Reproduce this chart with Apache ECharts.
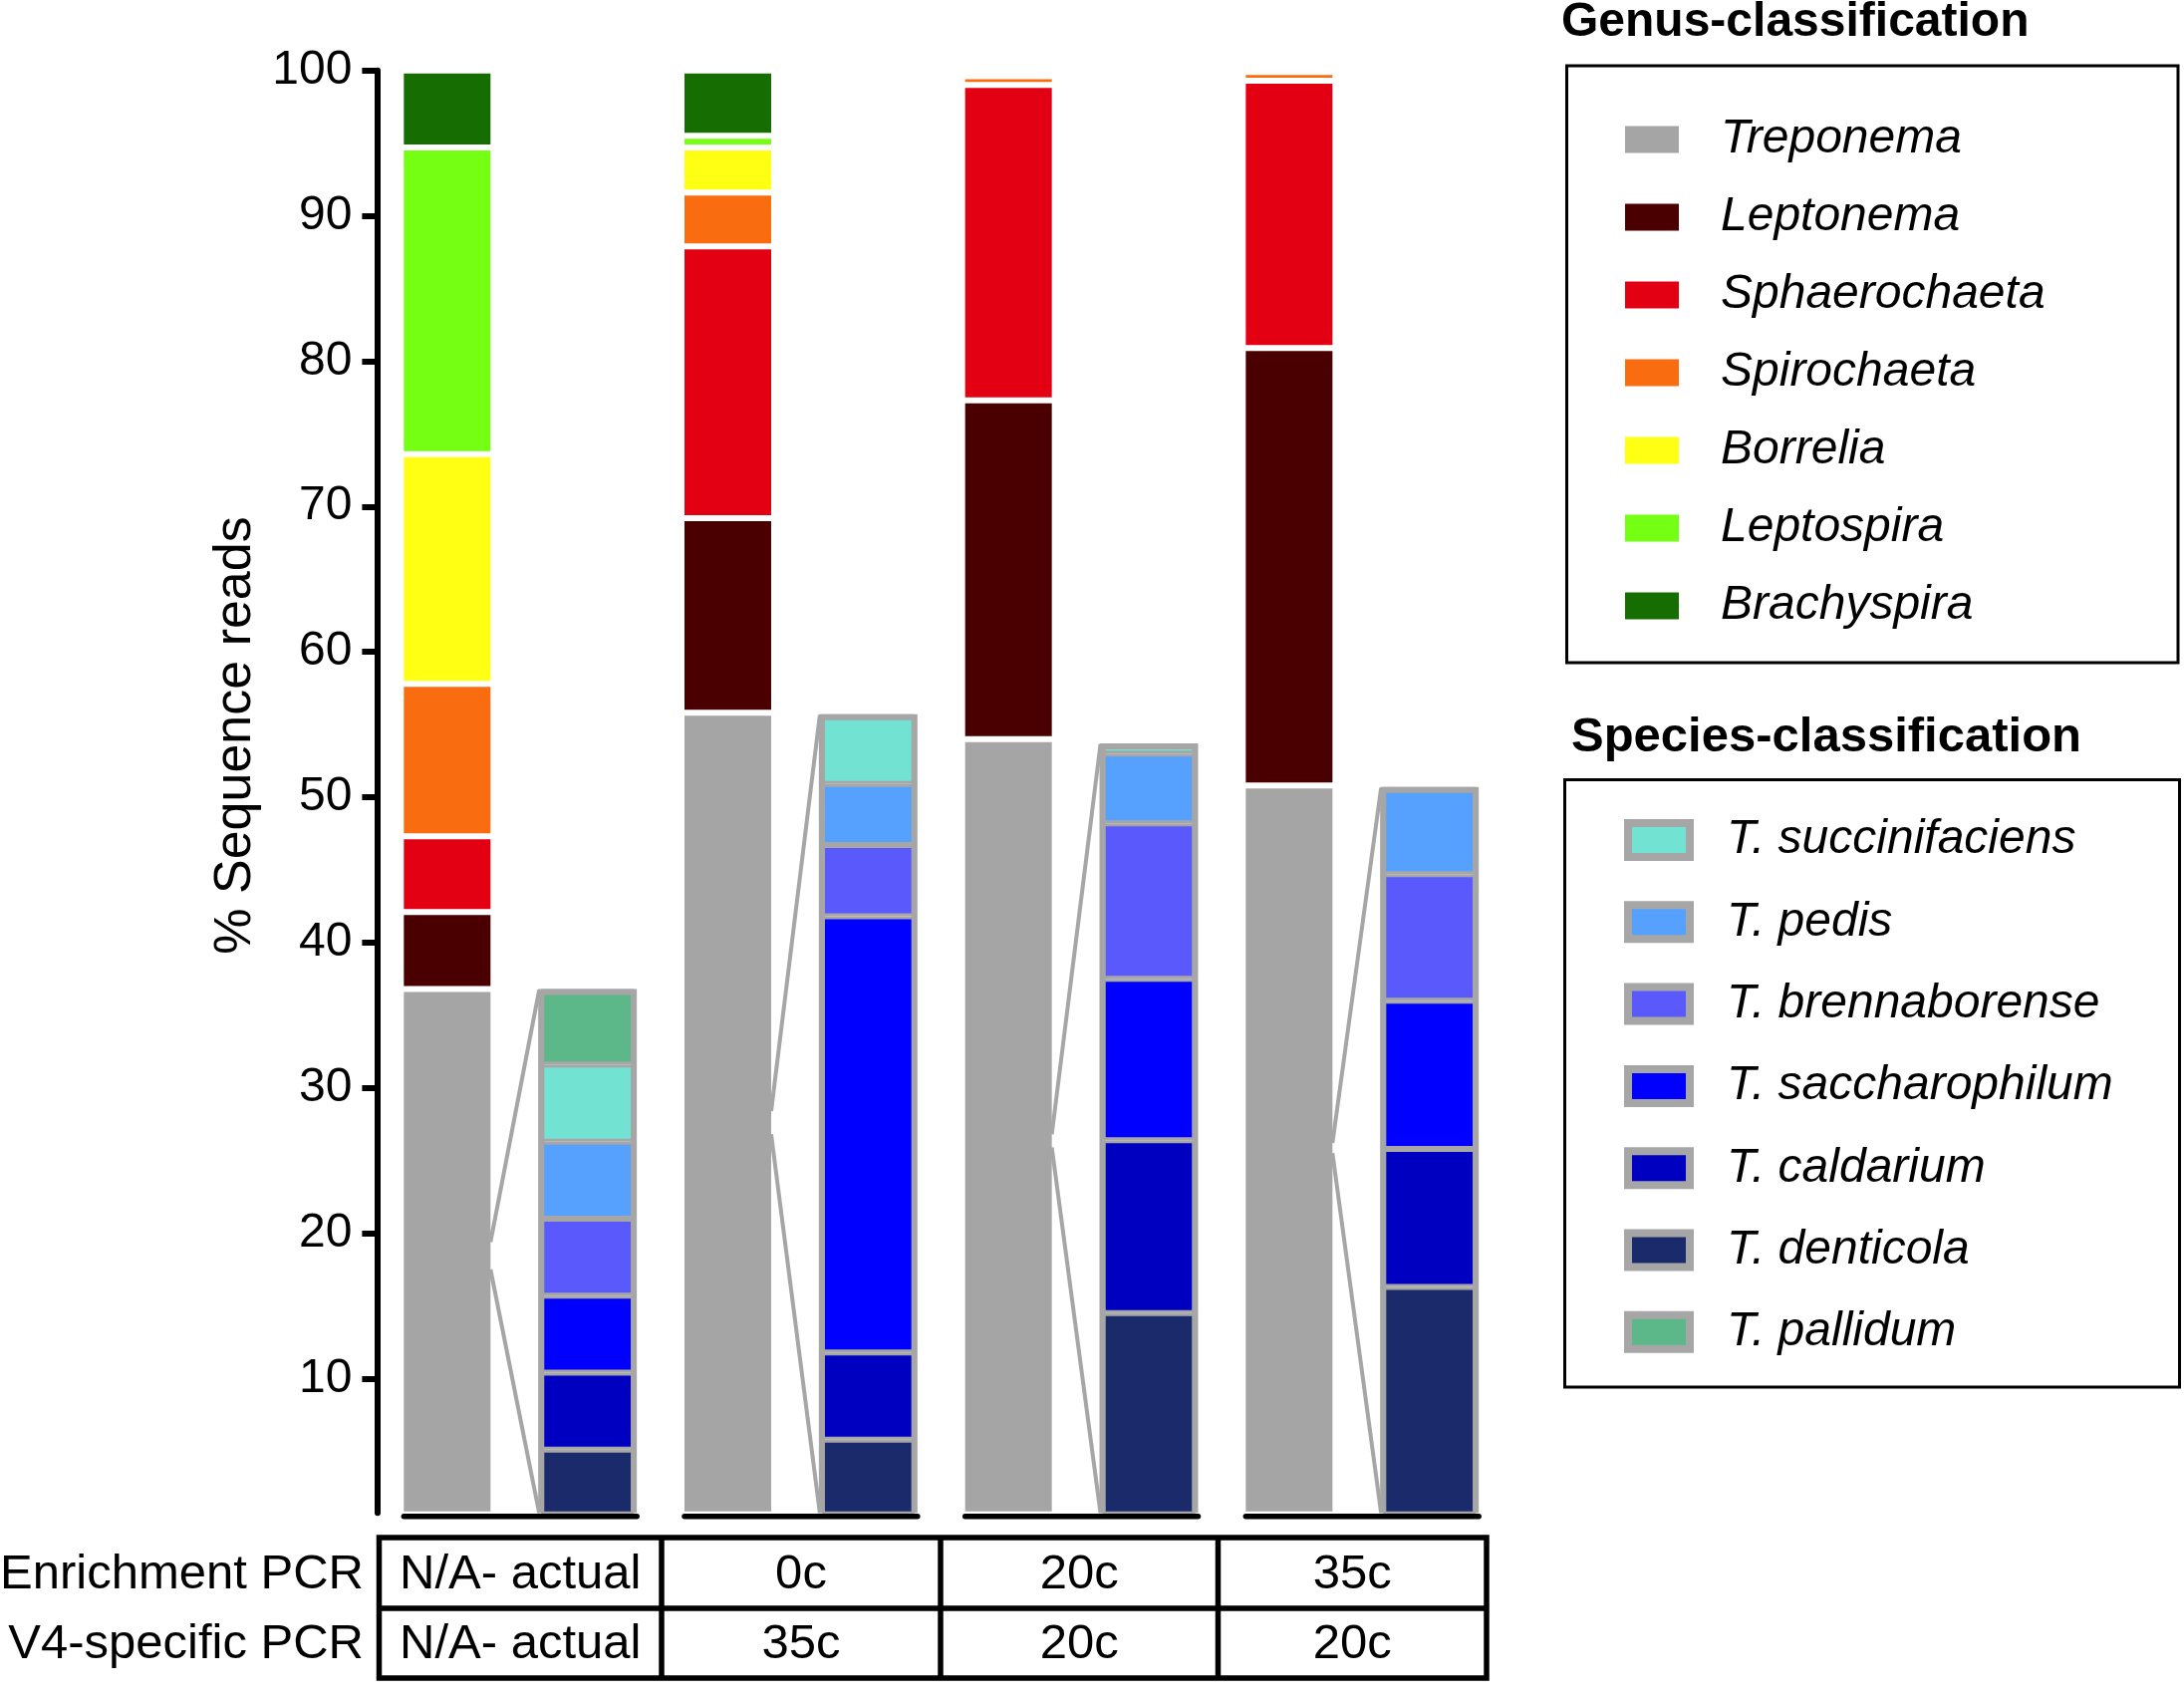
<!DOCTYPE html>
<html>
<head>
<meta charset="utf-8">
<script src="https://cdn.jsdelivr.net/npm/echarts@6/dist/echarts.min.js"></script>
<style>
html,body{margin:0;padding:0;background:#ffffff;}
#chart{width:2192px;height:1704px;}
</style>
</head>
<body>
<div id="chart"></div>
<script>
// ---------------- DATA ----------------
const enrichmentPcr = ['N/A- actual', '0c', '20c', '35c'];
const v4Pcr = ['N/A- actual', '35c', '20c', '20c'];
const tableRowLabels = ['Enrichment PCR', 'V4-specific PCR'];
const yTickValues = [10, 20, 30, 40, 50, 60, 70, 80, 90, 100];

// genus-level bars (stack order bottom -> top), one value per condition
const genusNames = ['Treponema', 'Leptonema', 'Sphaerochaeta', 'Spirochaeta', 'Borrelia', 'Leptospira', 'Brachyspira'];
const treponema     = [36.8, 55.8, 54.0, 50.8];
const leptonema     = [5.3, 13.4, 23.3, 30.1];
const sphaerochaeta = [5.2, 18.7, 21.7, 18.4];
const spirochaeta   = [10.5, 3.7, 0.6, 0.6];
const borrelia      = [15.8, 3.1, 0, 0];
const leptospira    = [21.1, 0.8, 0, 0];
const brachyspira   = [5.3, 4.5, 0, 0];

// species-level bars within Treponema (stack order bottom -> top)
const speciesNames = ['T. denticola', 'T. caldarium', 'T. saccharophilum', 'T. brennaborense', 'T. pedis', 'T. succinifaciens', 'T. pallidum'];
const tDenticola      = [5.1, 5.8, 14.5, 16.3];
const tCaldarium      = [5.3, 6.0, 11.9, 9.5];
const tSaccharophilum = [5.3, 30.0, 11.1, 10.2];
const tBrennaborense  = [5.3, 4.9, 10.7, 8.7];
const tPedis          = [5.3, 4.2, 4.8, 6.0];
const tSuccinifaciens = [5.3, 4.8, 0.7, 0];
const tPallidum       = [5.2, 0, 0, 0];
const speciesLegendOrder = ['T. succinifaciens', 'T. pedis', 'T. brennaborense', 'T. saccharophilum', 'T. caldarium', 'T. denticola', 'T. pallidum'];

// zoom connector end points on the genus bar
const zoomUpper = [19.4, 28.4, 26.8, 26.2];
const zoomLower = [17.5, 26.8, 25.9, 25.5];

// ---------------- STYLE ----------------
const FONT = "'Liberation Sans', Arial, Helvetica, sans-serif";
const Y_MIN = 0.75;
const GENUS_W = 93;      // bar width incl. inner white border
const SPEC_W = 99;       // outer width of species bar
const SEG_BORDER = 3;    // ECharts draws bar borders inside the rect
const OUTLINE_W = 6;
const GREY_BORDER = '#a6a6a6';
const genusColors = ['#a5a5a5', '#4a0000', '#e30012', '#fa6c10', '#ffff14', '#75ff12', '#166e03'];
const speciesColors = ['#1b2a6b', '#0000c0', '#0000ff', '#5a5afc', '#55a1fd', '#72e3d2', '#5cb888'];

// ---------------- BUILD ----------------
const genusValues = [treponema, leptonema, sphaerochaeta, spirochaeta, borrelia, leptospira, brachyspira];
const speciesValues = [tDenticola, tCaldarium, tSaccharophilum, tBrennaborense, tPedis, tSuccinifaciens, tPallidum];

const slots = [];
enrichmentPcr.forEach((c, i) => { slots.push('genus ' + i); slots.push('species ' + i); });

function slotData(vals, offset) {
  const out = [];
  vals.forEach(v => {
    const val = v === 0 ? '-' : v;
    if (offset === 0) { out.push(val); out.push('-'); }
    else { out.push('-'); out.push(val); }
  });
  return out;
}

const series = [];
genusNames.forEach((name, k) => {
  series.push({
    name: name, type: 'bar', stack: 'genus', barWidth: GENUS_W, barGap: '-100%',
    data: slotData(genusValues[k], 0),
    itemStyle: { color: genusColors[k], borderColor: '#ffffff', borderWidth: SEG_BORDER },
    emphasis: { disabled: true }
  });
});
speciesNames.forEach((name, k) => {
  series.push({
    name: name, type: 'bar', stack: 'genus', barWidth: GENUS_W,
    data: slotData(speciesValues[k], 1),
    itemStyle: { color: speciesColors[k], borderColor: GREY_BORDER, borderWidth: SEG_BORDER },
    emphasis: { disabled: true }
  });
});

const speciesTotals = enrichmentPcr.map((c, i) => speciesValues.reduce((s, arr) => s + arr[i], 0));
const connectorData = enrichmentPcr.map((c, i) => [2 * i, 2 * i + 1, speciesTotals[i], zoomUpper[i], zoomLower[i]]);

series.push({
  type: 'custom', name: 'connectors', z: 5, clip: false,
  encode: { x: 0, y: 2 },
  data: connectorData,
  renderItem: function (params, api) {
    const gi = api.value(0), si = api.value(1);
    const total = api.value(2), up = api.value(3), lo = api.value(4);
    const gx = api.coord([gi, Y_MIN])[0];
    const sx = api.coord([si, Y_MIN])[0];
    const yBottom = api.coord([si, Y_MIN])[1];
    const yTop = api.coord([si, total])[1];
    const genusRight = gx + GENUS_W / 2 - SEG_BORDER;
    const genusLeft = gx - GENUS_W / 2 + SEG_BORDER;
    const specLeft = sx - SPEC_W / 2;
    const specRight = sx + SPEC_W / 2;
    const lineStyle = { stroke: GREY_BORDER, lineWidth: 4 };
    const half = OUTLINE_W / 2;
    return {
      type: 'group',
      children: [
        // grey outline round the species stack (open at the bottom)
        { type: 'polyline', shape: { points: [[specLeft + half, yBottom], [specLeft + half, yTop + half], [specRight - half, yTop + half], [specRight - half, yBottom]] },
          style: { stroke: GREY_BORDER, lineWidth: OUTLINE_W, fill: 'none', lineJoin: 'miter' } },
        { type: 'line', shape: { x1: specLeft + 1, y1: yTop + 1, x2: genusRight, y2: api.coord([gi, up])[1] }, style: lineStyle },
        { type: 'line', shape: { x1: genusRight, y1: api.coord([gi, lo])[1], x2: specLeft + 1, y2: yBottom }, style: lineStyle },
        { type: 'line', shape: { x1: genusLeft, y1: yBottom + 3.5, x2: specRight, y2: yBottom + 3.5 }, style: { stroke: '#000', lineWidth: 5.5, lineCap: 'round' } }
      ]
    };
  }
});

// table graphics
const tableCols = [380.5, 664, 944, 1222.5, 1492];
const tableTop = 1543, tableMid = 1614, tableBottom = 1684;
const rowCenters = [1580, 1650];
const graphics = [];
graphics.push({ type: 'rect', shape: { x: tableCols[0], y: tableTop, width: tableCols[4] - tableCols[0], height: tableBottom - tableTop }, style: { fill: 'none', stroke: '#000', lineWidth: 5.5 } });
graphics.push({ type: 'line', shape: { x1: tableCols[0], y1: tableMid, x2: tableCols[4], y2: tableMid }, style: { stroke: '#000', lineWidth: 5.5 } });
for (let c = 1; c < 4; c++) {
  graphics.push({ type: 'line', shape: { x1: tableCols[c], y1: tableTop, x2: tableCols[c], y2: tableBottom }, style: { stroke: '#000', lineWidth: 5.5 } });
}
[enrichmentPcr, v4Pcr].forEach((row, r) => {
  row.forEach((txt, c) => {
    graphics.push({ type: 'text', x: (tableCols[c] + tableCols[c + 1]) / 2, y: rowCenters[r],
      style: { text: txt, fontSize: 49, fontFamily: FONT, fill: '#000', align: 'center', verticalAlign: 'middle' } });
  });
  graphics.push({ type: 'text', x: 365, y: rowCenters[r],
    style: { text: tableRowLabels[r], fontSize: 49, fontFamily: FONT, fill: '#000', align: 'right', verticalAlign: 'middle' } });
});
// legend boxes and headings
graphics.push({ type: 'rect', shape: { x: 1572.5, y: 66, width: 613.5, height: 599 }, style: { fill: 'none', stroke: '#000', lineWidth: 3 } });
graphics.push({ type: 'rect', shape: { x: 1570.5, y: 782.5, width: 617, height: 609.5 }, style: { fill: 'none', stroke: '#000', lineWidth: 3 } });
graphics.push({ type: 'text', x: 1567, y: 23, style: { text: 'Genus-classification', fontSize: 48, fontWeight: 'bold', fontFamily: FONT, fill: '#000', align: 'left', verticalAlign: 'middle' } });
graphics.push({ type: 'text', x: 1577, y: 740, style: { text: 'Species-classification', fontSize: 49, fontWeight: 'bold', fontFamily: FONT, fill: '#000', align: 'left', verticalAlign: 'middle' } });

const option = {
  animation: false,
  backgroundColor: '#ffffff',
  grid: { left: 378.4, top: 70.7, width: 1126.7, height: 1447.6, outerBoundsMode: 'none', containLabel: false },
  xAxis: {
    type: 'category', data: slots, boundaryGap: true,
    axisLine: { show: false }, axisTick: { show: false }, axisLabel: { show: false }, splitLine: { show: false }
  },
  yAxis: {
    type: 'value', min: Y_MIN, max: 100,
    axisLine: { show: true, lineStyle: { color: '#000', width: 6 } },
    axisTick: { show: true, length: 15, lineStyle: { color: '#000', width: 6 }, customValues: yTickValues },
    axisLabel: { show: true, customValues: yTickValues, fontSize: 48, fontFamily: FONT, color: '#000', margin: 25 },
    splitLine: { show: false },
    name: '% Sequence reads', nameLocation: 'middle', nameGap: 107,
    nameTextStyle: { fontSize: 52, fontFamily: FONT, color: '#000', padding: [0, 0, 0, 113] }
  },
  legend: [
    {
      data: genusNames, orient: 'vertical', left: 1631, top: 115, padding: 0,
      itemWidth: 54, itemHeight: 27, itemGap: 28, icon: 'rect', selectedMode: false,
      itemStyle: { borderWidth: 0 },
      textStyle: { fontSize: 48, fontStyle: 'italic', fontFamily: FONT, color: '#000', lineHeight: 50, padding: [0, 0, 0, 37] }
    },
    {
      data: speciesLegendOrder, orient: 'vertical', left: 1630, top: 818, padding: 0,
      itemWidth: 62, itemHeight: 34, itemGap: 32.3, icon: 'rect', selectedMode: false,
      itemStyle: { borderColor: GREY_BORDER, borderWidth: 8 },
      textStyle: { fontSize: 48, fontStyle: 'italic', fontFamily: FONT, color: '#000', lineHeight: 50, padding: [0, 0, 0, 32] }
    }
  ],
  graphic: graphics,
  series: series
};

const chart = echarts.init(document.getElementById('chart'), null, { renderer: 'canvas' });
chart.setOption(option);
</script>
</body>
</html>
